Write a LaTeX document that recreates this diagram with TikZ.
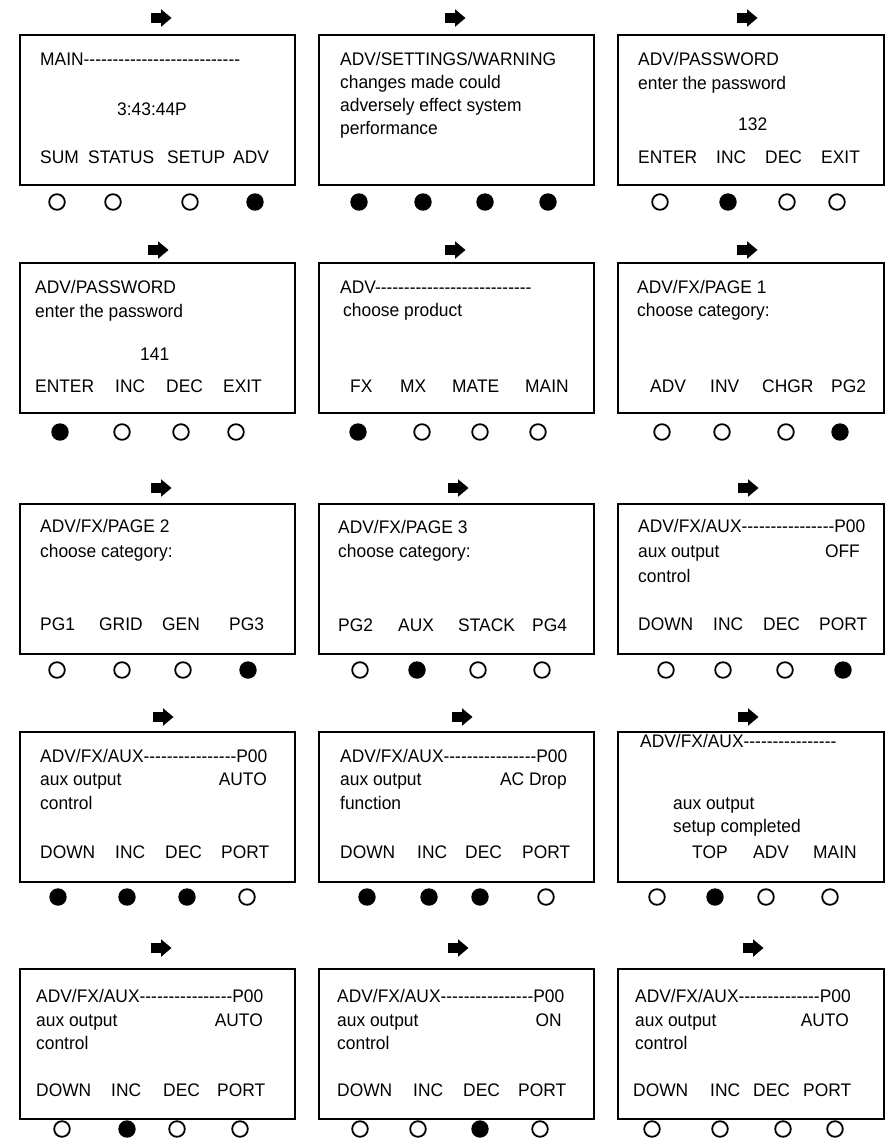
\documentclass[tikz,border=0pt]{standalone}
\usepackage{fontspec}
\setmainfont{Liberation Sans}[Ligatures=TeXOff,FakeStretch=0.956]
\ExplSyntaxOn
\NewDocumentCommand\dashrun{m}{\prg_replicate:nn{#1}{-}}
\ExplSyntaxOff
\begin{document}
\begin{tikzpicture}[x=1pt,y=-1pt,
  panel/.style={draw,line width=1.8pt,inner sep=0pt,anchor=north west,minimum height=150pt},
  wide/.style={minimum width=275pt},
  narrow/.style={minimum width=266pt},
  txt/.style={anchor=base west,inner sep=0pt,font=\fontsize{18.2}{22}\selectfont},
  rtxt/.style={anchor=base east,inner sep=0pt,font=\fontsize{18.2}{22}\selectfont},
  off/.style={circle,draw,line width=1.8pt,minimum size=15.6pt,inner sep=0pt},
  on/.style={circle,fill,minimum size=17.4pt,inner sep=0pt},
  rarrow/.pic={\fill (-10.5,-5) rectangle (0.5,5); \fill (0,-8.8) -- (10.5,0) -- (0,8.8) -- cycle;}]
\useasboundingbox (0,0) rectangle (894,1144);

% ---------- panels ----------
\node[panel,wide]   (p11) at (19,34) {};
\node[panel,wide]   (p12) at (318,34) {};
\node[panel,narrow] (p13) at (617,34) {};
\node[panel,wide]   (p21) at (19,262) {};
\node[panel,wide]   (p22) at (318,262) {};
\node[panel,narrow] (p23) at (617,262) {};
\node[panel,wide]   (p31) at (19,503) {};
\node[panel,wide]   (p32) at (318,503) {};
\node[panel,narrow] (p33) at (617,503) {};
\node[panel,wide]   (p41) at (19,731) {};
\node[panel,wide]   (p42) at (318,731) {};
\node[panel,narrow] (p43) at (617,731) {};
\node[panel,wide]   (p51) at (19,968) {};
\node[panel,wide]   (p52) at (318,968) {};
\node[panel,narrow] (p53) at (617,968) {};

% ---------- arrows ----------
\pic at (161,18) {rarrow}; \pic at (455,18) {rarrow}; \pic at (747,18) {rarrow};
\pic at (158,250) {rarrow}; \pic at (455,250) {rarrow}; \pic at (747,250) {rarrow};
\pic at (161,488) {rarrow}; \pic at (458,488) {rarrow}; \pic at (748,488) {rarrow};
\pic at (163,717) {rarrow}; \pic at (462,717) {rarrow}; \pic at (748,717) {rarrow};
\pic at (161,948) {rarrow}; \pic at (458,948) {rarrow}; \pic at (753,948) {rarrow};

% ---------- buttons ----------
\foreach \x/\s [count=\i] in {57/off,113/off,190/off,255/on,359/on,423/on,485/on,548/on,660/off,728/on,787/off,837/off}
  \node[\s] (ba\i) at (\x,202) {};
\foreach \x/\s [count=\i] in {60/on,122/off,181/off,236/off,358/on,422/off,480/off,538/off,662/off,722/off,786/off,840/on}
  \node[\s] (bb\i) at (\x,432) {};
\foreach \x/\s [count=\i] in {57/off,122/off,183/off,248/on,360/off,417/on,478/off,542/off,666/off,723/off,785/off,843/on}
  \node[\s] (bc\i) at (\x,670) {};
\foreach \x/\s [count=\i] in {58/on,127/on,187/on,247/off,367/on,429/on,480/on,546/off,657/off,715/on,766/off,830/off}
  \node[\s] (bd\i) at (\x,897) {};
\foreach \x/\s [count=\i] in {62/off,127/on,177/off,240/off,360/off,418/off,480/on,540/off,652/off,720/off,783/off,835/off}
  \node[\s] (be\i) at (\x,1129) {};

% ---------- row 1 ----------
\node[txt] (t11a) at (40,65) {MAIN\dashrun{27}};
\node[txt] (t11b) at (117,115) {3:43:44P};
\node[txt] (t11c) at (40,163) {SUM};
\node[txt] (t11d) at (88,163) {STATUS};
\node[txt] (t11e) at (167,163) {SETUP};
\node[txt] (t11f) at (233,163) {ADV};

\node[txt] (t12a) at (340,65) {ADV/SETTINGS/WARNING};
\node[txt] (t12b) at (340,88) {changes made could};
\node[txt] (t12c) at (340,111) {adversely effect system};
\node[txt] (t12d) at (340,134) {performance};

\node[txt] (t13a) at (638,65) {ADV/PASSWORD};
\node[txt] (t13b) at (638,89) {enter the password};
\node[txt] (t13c) at (738,130) {132};
\node[txt] (t13d) at (638,163) {ENTER};
\node[txt] (t13e) at (716,163) {INC};
\node[txt] (t13f) at (765,163) {DEC};
\node[txt] (t13g) at (821,163) {EXIT};

% ---------- row 2 ----------
\node[txt] (t21a) at (35,293) {ADV/PASSWORD};
\node[txt] (t21b) at (35,317) {enter the password};
\node[txt] (t21c) at (140,360) {141};
\node[txt] (t21d) at (35,392) {ENTER};
\node[txt] (t21e) at (115,392) {INC};
\node[txt] (t21f) at (166,392) {DEC};
\node[txt] (t21g) at (223,392) {EXIT};

\node[txt] (t22a) at (340,293) {ADV\dashrun{27}};
\node[txt] (t22b) at (343,316) {choose product};
\node[txt] (t22c) at (350,392) {FX};
\node[txt] (t22d) at (400,392) {MX};
\node[txt] (t22e) at (452,392) {MATE};
\node[txt] (t22f) at (525,392) {MAIN};

\node[txt] (t23a) at (637,293) {ADV/FX/PAGE 1};
\node[txt] (t23b) at (637,316) {choose category:};
\node[txt] (t23c) at (650,392) {ADV};
\node[txt] (t23d) at (710,392) {INV};
\node[txt] (t23e) at (762,392) {CHGR};
\node[txt] (t23f) at (831,392) {PG2};

% ---------- row 3 ----------
\node[txt] (t31a) at (40,532) {ADV/FX/PAGE 2};
\node[txt] (t31b) at (40,557) {choose category:};
\node[txt] (t31c) at (40,630) {PG1};
\node[txt] (t31d) at (99,630) {GRID};
\node[txt] (t31e) at (162,630) {GEN};
\node[txt] (t31f) at (229,630) {PG3};

\node[txt] (t32a) at (338,533) {ADV/FX/PAGE 3};
\node[txt] (t32b) at (338,557) {choose category:};
\node[txt] (t32c) at (338,631) {PG2};
\node[txt] (t32d) at (398,631) {AUX};
\node[txt] (t32e) at (458,631) {STACK};
\node[txt] (t32f) at (532,631) {PG4};

\node[txt] (t33a) at (638,532) {ADV/FX/AUX\dashrun{16}P00};
\node[txt] (t33b) at (638,557) {aux output};
\node[rtxt] (t33c) at (860,557) {OFF};
\node[txt] (t33d) at (638,582) {control};
\node[txt] (t33e) at (638,630) {DOWN};
\node[txt] (t33f) at (713,630) {INC};
\node[txt] (t33g) at (763,630) {DEC};
\node[txt] (t33h) at (819,630) {PORT};

% ---------- row 4 ----------
\node[txt] (t41a) at (40,762) {ADV/FX/AUX\dashrun{16}P00};
\node[txt] (t41b) at (40,785) {aux output};
\node[rtxt] (t41c) at (267,785) {AUTO};
\node[txt] (t41d) at (40,809) {control};
\node[txt] (t41e) at (40,858) {DOWN};
\node[txt] (t41f) at (115,858) {INC};
\node[txt] (t41g) at (165,858) {DEC};
\node[txt] (t41h) at (221,858) {PORT};

\node[txt] (t42a) at (340,762) {ADV/FX/AUX\dashrun{16}P00};
\node[txt] (t42b) at (340,785) {aux output};
\node[rtxt] (t42c) at (567,785) {AC Drop};
\node[txt] (t42d) at (340,809) {function};
\node[txt] (t42e) at (340,858) {DOWN};
\node[txt] (t42f) at (417,858) {INC};
\node[txt] (t42g) at (465,858) {DEC};
\node[txt] (t42h) at (522,858) {PORT};

\node[txt] (t43a) at (640,747) {ADV/FX/AUX\dashrun{16}};
\node[txt] (t43b) at (673,809) {aux output};
\node[txt] (t43c) at (673,832) {setup completed};
\node[txt] (t43d) at (692,858) {TOP};
\node[txt] (t43e) at (753,858) {ADV};
\node[txt] (t43f) at (813,858) {MAIN};

% ---------- row 5 ----------
\node[txt] (t51a) at (36,1002) {ADV/FX/AUX\dashrun{16}P00};
\node[txt] (t51b) at (36,1026) {aux output};
\node[rtxt] (t51c) at (263,1026) {AUTO};
\node[txt] (t51d) at (36,1049) {control};
\node[txt] (t51e) at (36,1096) {DOWN};
\node[txt] (t51f) at (111,1096) {INC};
\node[txt] (t51g) at (163,1096) {DEC};
\node[txt] (t51h) at (217,1096) {PORT};

\node[txt] (t52a) at (337,1002) {ADV/FX/AUX\dashrun{16}P00};
\node[txt] (t52b) at (337,1026) {aux output};
\node[rtxt] (t52c) at (562,1026) {ON};
\node[txt] (t52d) at (337,1049) {control};
\node[txt] (t52e) at (337,1096) {DOWN};
\node[txt] (t52f) at (413,1096) {INC};
\node[txt] (t52g) at (463,1096) {DEC};
\node[txt] (t52h) at (518,1096) {PORT};

\node[txt] (t53a) at (635,1002) {ADV/FX/AUX\dashrun{14}P00};
\node[txt] (t53b) at (635,1026) {aux output};
\node[rtxt] (t53c) at (849,1026) {AUTO};
\node[txt] (t53d) at (635,1049) {control};
\node[txt] (t53e) at (633,1096) {DOWN};
\node[txt] (t53f) at (710,1096) {INC};
\node[txt] (t53g) at (753,1096) {DEC};
\node[txt] (t53h) at (803,1096) {PORT};
\end{tikzpicture}
\end{document}
